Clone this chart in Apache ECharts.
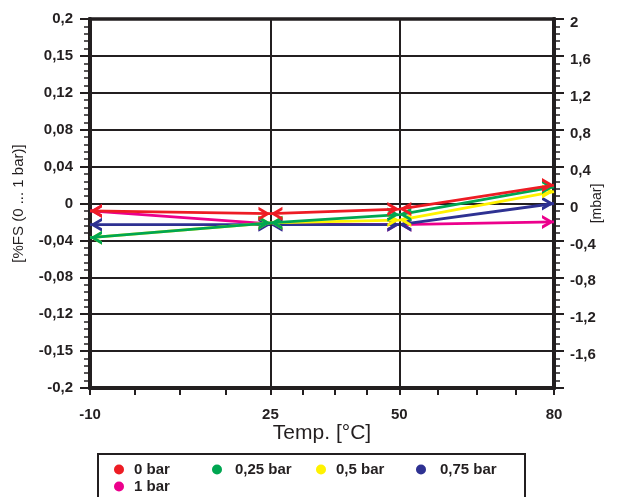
<!DOCTYPE html>
<html><head><meta charset="utf-8">
<script src="https://cdn.jsdelivr.net/npm/echarts@6/dist/echarts.min.js"></script>
<style>html,body{margin:0;padding:0;background:#fff;overflow:hidden}#c{width:617px;height:497px}</style>
</head><body><div id="c"></div>
<script>
const temps = [-10, 25, 50, 80];
const xTickLabels = [-10, 25, 50, 80];
const xMinorTicks = [-10, -1.25, 7.5, 16.25, 25, 31.25, 37.5, 43.75, 50, 57.5, 65, 72.5, 80];
const leftTickLabels = ['-0,2','-0,15','-0,12','-0,08','-0,04','0','0,04','0,08','0,12','0,15','0,2'];
const rightTickLabels = ['','-1,6','-1,2','-0,8','-0,4','0','0,4','0,8','1,2','1,6','2'];
const seriesNames = ['0 bar','0,25 bar','0,5 bar','0,75 bar','1 bar'];
const bar0 = [-0.008, -0.011, -0.006, 0.020];
const bar025 = [-0.037, -0.021, -0.012, 0.018];
const bar05 = [-0.037, -0.021, -0.018, 0.013];
const bar075 = [-0.023, -0.023, -0.023, 0.000];
const bar1 = [-0.008, -0.022, -0.023, -0.020];
const colors = ['#ed1c24','#00a651','#fff200','#2e3192','#ec008c'];

const SYM_L = 'path://M12,0 L0,7 L12,14 L12,10.6 L5.8,7 L12,3.4 Z';
const SYM_R = 'path://M0,0 L12,7 L0,14 L0,10.6 L6.2,7 L0,3.4 Z';
const SYM_M = 'path://M0,0 L12,7 L0,14 L0,10.6 L6.2,7 L0,3.4 Z M24,0 L12,7 L24,14 L24,10.6 L17.8,7 L24,3.4 Z';
const FONT = 'Liberation Sans, Arial, sans-serif';

function pts(vals){
  return vals.map((v,i)=>{
    const last = vals.length-1;
    if(i===0) return {value:[temps[i],v], symbol:SYM_L, symbolSize:[12,14], symbolOffset:[6,0]};
    if(i===last) return {value:[temps[i],v], symbol:SYM_R, symbolSize:[12,14], symbolOffset:[-6,0]};
    return {value:[temps[i],v], symbol:SYM_M, symbolSize:[24,14]};
  });
}
const allVals = [bar0, bar025, bar05, bar075, bar1];
const drawOrder = [4,3,2,1,0];
const series = [{
  type:'line', data:[], z:1, silent:true,
  markLine:{silent:true, symbol:'none', label:{show:false},
    lineStyle:{color:'#231f20', width:2, type:'solid'},
    data:[{xAxis:25},{xAxis:50}]}
}];
drawOrder.forEach((i,k)=>{
  series.push({
    name: seriesNames[i], type:'line', data: pts(allVals[i]),
    color: colors[i], lineStyle:{color:colors[i], width:2.8},
    itemStyle:{color:colors[i]}, showSymbol:true, z:3+k,
    animation:false
  });
});
const legendPos = [[114,462],[212,462],[316,462],[416,462],[114,479]];
const legendTextPad = [5,8,5,9,5];
const legends = seriesNames.map((n,i)=>({
  data:[n], left:legendPos[i][0], top:legendPos[i][1], padding:0,
  icon:'circle', itemWidth:10, itemHeight:10, selectedMode:false,
  itemStyle:{color:colors[i]},
  textStyle:{fontFamily:FONT, fontWeight:'bold', fontSize:15, color:'#231f20', padding:[0,0,0,legendTextPad[i]]}
}));

const chart = echarts.init(document.getElementById('c'));
chart.setOption({
  animation:false,
  backgroundColor:'#fff',
  grid:{left:90, right:63, top:19, bottom:109, show:true, borderColor:'#231f20', borderWidth:3.5, containLabel:false, outerBoundsMode:'none'},
  legend: legends,
  graphic:[{type:'rect', shape:{x:98,y:454,width:427,height:60}, style:{fill:'none', stroke:'#231f20', lineWidth:2}, z:-1}],
  xAxis:{type:'value', min:-10, max:80,
    name:'Temp. [°C]', nameLocation:'middle', nameGap:35, nameMoveOverlap:false,
    nameTextStyle:{fontFamily:FONT, fontSize:21, color:'#231f20'},
    axisLine:{show:true, onZero:false, lineStyle:{color:'#231f20', width:4}},
    axisTick:{show:true, length:7, lineStyle:{color:'#231f20', width:2}, customValues:xMinorTicks},
    axisLabel:{customValues:xTickLabels, margin:19, fontFamily:FONT, fontWeight:'bold', fontSize:15, color:'#231f20',
      formatter:v=>String(v)},
    splitLine:{show:false}},
  yAxis:[{type:'value', min:-0.2, max:0.2, interval:0.04, position:'left',
    name:'[%FS (0 ... 1 bar)]', nameLocation:'middle', nameRotate:90, nameGap:64, nameMoveOverlap:false,
    nameTextStyle:{fontFamily:FONT, fontSize:15, color:'#231f20'},
    axisLine:{show:true, onZero:false, lineStyle:{color:'#231f20', width:4}},
    axisTick:{show:true, length:10, lineStyle:{color:'#231f20', width:2}},
    minorTick:{show:true, splitNumber:5, length:6, lineStyle:{color:'#231f20', width:1.5}},
    axisLabel:{margin:17, fontFamily:FONT, fontWeight:'bold', fontSize:15, color:'#231f20',
      formatter:v=>leftTickLabels[Math.round((v+0.2)/0.04)]},
    splitLine:{show:true, lineStyle:{color:'#231f20', width:2}}},
   {type:'value', min:-2, max:2, interval:0.4, position:'right',
    name:'[mbar]', nameLocation:'middle', nameRotate:90, nameGap:36, nameMoveOverlap:false,
    nameTextStyle:{fontFamily:FONT, fontSize:14, color:'#231f20'},
    axisLine:{show:true, onZero:false, lineStyle:{color:'#231f20', width:4}},
    axisTick:{show:true, length:10, lineStyle:{color:'#231f20', width:2}},
    minorTick:{show:true, splitNumber:5, length:6, lineStyle:{color:'#231f20', width:1.5}},
    axisLabel:{margin:16, fontFamily:FONT, fontWeight:'bold', fontSize:15, color:'#231f20',
      formatter:v=>'{r|' + rightTickLabels[Math.round((v+2)/0.4)] + '}',
      rich:{r:{fontFamily:FONT, fontWeight:'bold', fontSize:15, color:'#231f20', padding:[8,0,0,0]}}},
    splitLine:{show:false}}],
  series: series
});
</script></body></html>
